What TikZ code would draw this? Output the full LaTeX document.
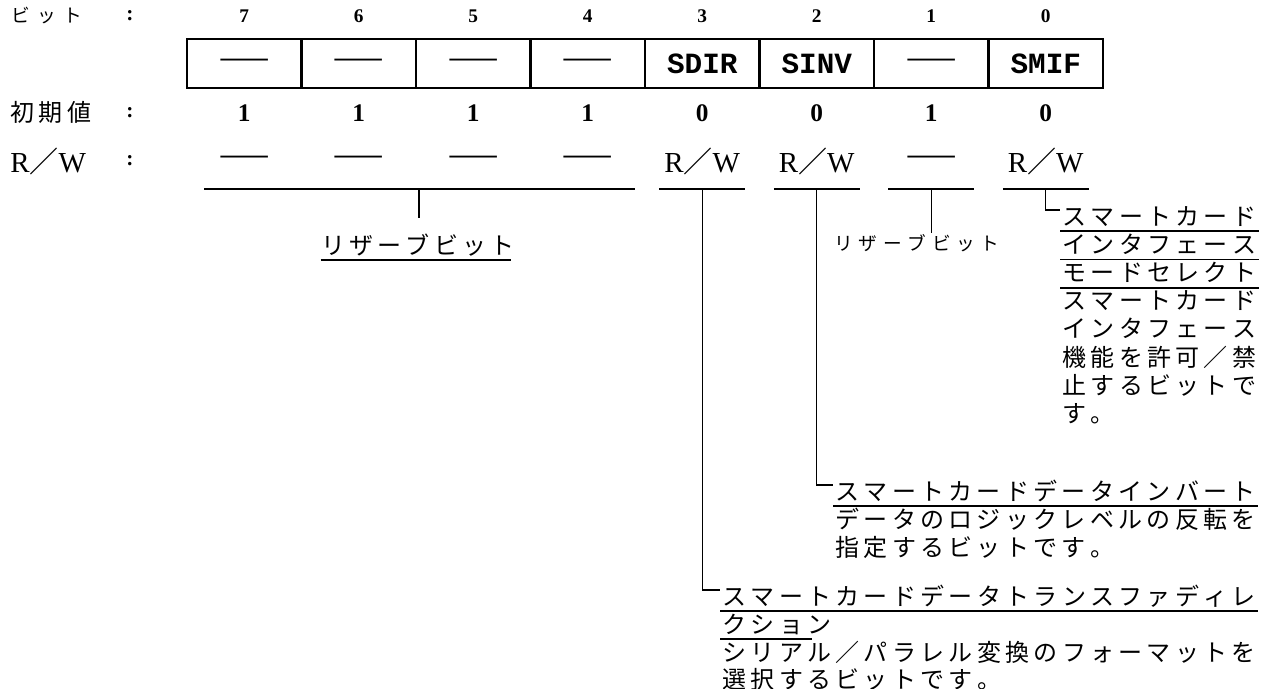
\documentclass[tikz,border=0pt]{standalone}
\usepackage{fontspec}
\usetikzlibrary{calc}
\newfontfamily\jpf{Noto Sans CJK JP}
\newfontfamily\serf{Liberation Serif}
\newfontfamily\monof{Liberation Mono}
\newlength\jpw
\def\jpq{\jpq}
\def\jpiter#1{\ifx#1\jpq\else\makebox[\jpw][c]{#1}\expandafter\jpiter\fi}
\newcommand\jp[2]{\setlength\jpw{#1}\jpiter#2\jpq}
\newcommand\J[1]{\jp{21.225pt}{#1}}
\newcommand\dashtxt{{\jpf\fontsize{22.5pt}{22.5pt}\selectfont ——}}
\newcommand\rwtxt{R{\jpf ／}W}
\tikzset{
  jtx/.style={inner sep=0pt, anchor=west, text height=15pt, text depth=3pt,
    font=\jpf\fontsize{18pt}{18pt}\selectfont},
  num/.style={inner sep=0pt, font=\serf\bfseries\fontsize{14.5pt}{14.5pt}\selectfont},
  ival/.style={inner sep=0pt, font=\serf\bfseries\fontsize{19pt}{19pt}\selectfont},
  cell/.style={draw, line width=2pt, minimum width=85.875pt, minimum height=36.75pt, inner sep=0pt},
  bname/.style={font=\monof\bfseries\fontsize{22pt}{22pt}\selectfont},
  rw/.style={inner sep=0pt, font=\serf\fontsize{21.75pt}{21.75pt}\selectfont},
  rwdash/.style={inner sep=0pt},
  colon/.style={inner sep=0pt, font=\serf\bfseries\fontsize{16pt}{16pt}\selectfont},
  brk/.style={line width=1.5pt},
  lead/.style={line width=1.1pt},
  uline/.style={line width=1.3pt},
}
\begin{document}
\begin{tikzpicture}[x=0.75pt,y=-0.75pt]
\useasboundingbox (0,0) rectangle (1268,689);
% left labels
\node[inner sep=0pt, anchor=west, font=\jpf\fontsize{14pt}{14pt}\selectfont] (lbit) at (8,16) {\jp{19.5pt}{ビット}};
\node[colon] (col1) at (130,16) {:};
\node[jtx] (linit) at (8,113) {\J{初期値}};
\node[colon] (col2) at (130,113) {:};
\node[rw, anchor=west] (lrw) at (10,161) {\rwtxt};
\node[colon] (col3) at (130,161) {:};
% register cells
\node[cell] (c7) at (244.25,63.5) {\dashtxt};
\node[cell] (c6) at (358.75,63.5) {\dashtxt};
\node[cell] (c5) at (473.25,63.5) {\dashtxt};
\node[cell] (c4) at (587.75,63.5) {\dashtxt};
\node[cell,bname] (c3) at (702.25,63.5) {SDIR};
\node[cell,bname] (c2) at (816.75,63.5) {SINV};
\node[cell] (c1) at (931.25,63.5) {\dashtxt};
\node[cell,bname] (c0) at (1045.75,63.5) {SMIF};
% bit numbers
\node[num] (n7) at (c7 |- 0,16) {7};
\node[num] (n6) at (c6 |- 0,16) {6};
\node[num] (n5) at (c5 |- 0,16) {5};
\node[num] (n4) at (c4 |- 0,16) {4};
\node[num] (n3) at (c3 |- 0,16) {3};
\node[num] (n2) at (c2 |- 0,16) {2};
\node[num] (n1) at (c1 |- 0,16) {1};
\node[num] (n0) at (c0 |- 0,16) {0};
% initial values
\node[ival] (i7) at (c7 |- 0,113) {1};
\node[ival] (i6) at (c6 |- 0,113) {1};
\node[ival] (i5) at (c5 |- 0,113) {1};
\node[ival] (i4) at (c4 |- 0,113) {1};
\node[ival] (i3) at (c3 |- 0,113) {0};
\node[ival] (i2) at (c2 |- 0,113) {0};
\node[ival] (i1) at (c1 |- 0,113) {1};
\node[ival] (i0) at (c0 |- 0,113) {0};
% R/W row
\node[rwdash] (r7) at (c7 |- 0,161) {\dashtxt};
\node[rwdash] (r6) at (c6 |- 0,161) {\dashtxt};
\node[rwdash] (r5) at (c5 |- 0,161) {\dashtxt};
\node[rwdash] (r4) at (c4 |- 0,161) {\dashtxt};
\node[rw] (r3) at (c3 |- 0,161) {\rwtxt};
\node[rw] (r2) at (c2 |- 0,161) {\rwtxt};
\node[rwdash] (r1) at (c1 |- 0,161) {\dashtxt};
\node[rw] (r0) at (c0 |- 0,161) {\rwtxt};
% brackets
\coordinate (k74a) at (204,189);
\coordinate (k74b) at (635,189);
\coordinate (k74m) at (419,189);
\draw[brk] (k74a) -- (k74b);
\foreach \c in {c3,c2,c1,c0}{
  \coordinate (k\c) at (\c |- 0,189);
  \draw[brk] ($(k\c)+(-43,0)$) -- ($(k\c)+(43,0)$);
}
% reserved bits 7-4
\node[jtx, anchor=center] (t74) at (418,246) {\J{リザーブビット}};
\draw[uline] ($(t74.south west)+(2,2)$) -- ($(t74.south east)+(-6,2)$);
\draw[lead] (k74m) -- (k74m |- 0,218);
% reserved bit 1
\node[inner sep=0pt, font=\jpf\fontsize{14pt}{14pt}\selectfont] (t1) at (917,243) {\jp{18.3pt}{リザーブビット}};
\draw[lead] (kc1) -- (kc1 |- 0,233);
% SMIF
\node[jtx] (t0a) at (1060,217) {\J{スマートカード}};
\node[jtx] (t0b) at (1060,245.2) {\J{インタフェース}};
\node[jtx] (t0c) at (1060,273.4) {\J{モードセレクト}};
\node[jtx] (t0d) at (1060,301.6) {\J{スマートカード}};
\node[jtx] (t0e) at (1060,329.8) {\J{インタフェース}};
\node[jtx] (t0f) at (1060,358) {\J{機能を許可／禁}};
\node[jtx] (t0g) at (1060,386.2) {\J{止するビットで}};
\node[jtx] (t0h) at (1060,414.4) {\J{す。}};
\foreach \t in {t0a,t0b,t0c}{
  \draw[uline] ($(\t.south west)+(0,2)$) -- ($(\t.south east)+(0,2)$);
}
\draw[lead] (kc0) |- ($(t0a.west)+(0,-7)$);
% SINV
\node[jtx] (t2a) at (833,492) {\J{スマートカードデータインバート}};
\node[jtx] (t2b) at (833,520.2) {\J{データのロジックレベルの反転を}};
\node[jtx] (t2c) at (833,548.4) {\J{指定するビットです。}};
\draw[uline] ($(t2a.south west)+(0,2)$) -- ($(t2a.south east)+(0,2)$);
\draw[lead] (kc2) |- ($(t2a.west)+(0,-7)$);
% SDIR
\node[jtx] (t3a) at (720,597) {\J{スマートカードデータトランスファディレ}};
\node[jtx] (t3b) at (720,625) {\J{クション}};
\node[jtx] (t3c) at (720,653) {\J{シリアル／パラレル変換のフォーマットを}};
\node[jtx] (t3d) at (720,680) {\J{選択するビットです。}};
\draw[uline] ($(t3a.south west)+(0,2)$) -- ($(t3a.south east)+(0,2)$);
\draw[uline] ($(t3b.south west)+(0,2)$) -- ($(t3b.south east)+(-22,2)$);
\draw[lead] (kc3) |- ($(t3a.west)+(0,-7)$);
\end{tikzpicture}
\end{document}
